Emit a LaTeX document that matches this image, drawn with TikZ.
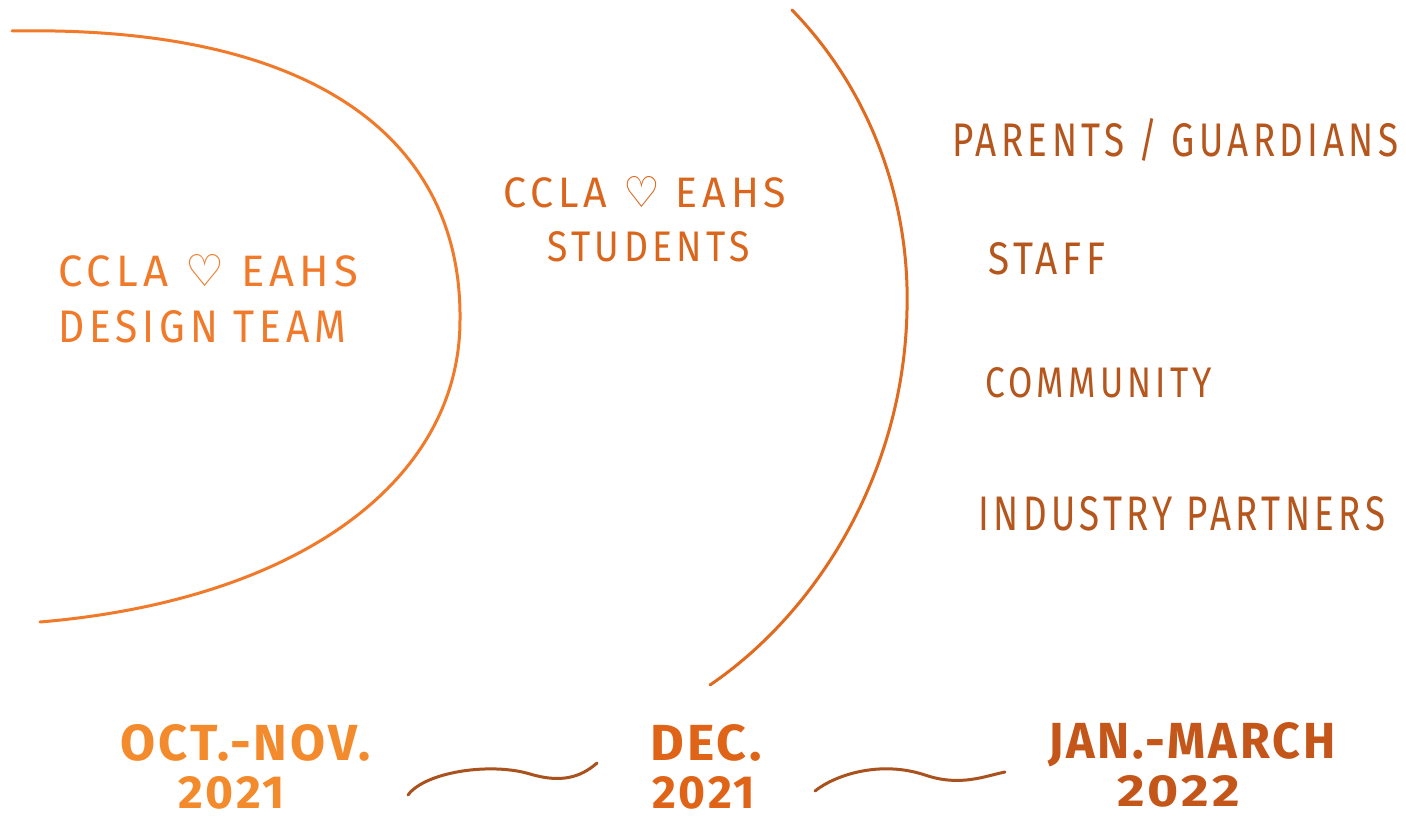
\documentclass[tikz,border=0pt]{standalone}
\usepackage{fontspec}
\setmainfont{Fira Sans}[LetterSpace=12]
\newfontfamily\symf{DejaVu Sans}
\newfontfamily\datef{Fira Sans}[BoldFont={Fira Sans Bold},LetterSpace=6]
\usepackage{graphicx}
\definecolor{lefto}{HTML}{F07A2A}
\definecolor{mido}{HTML}{DA661E}
\definecolor{midarc}{HTML}{E06A1E}
\definecolor{righto}{HTML}{B5561C}
\definecolor{dateA}{HTML}{F38A2C}
\definecolor{dateB}{HTML}{E06418}
\definecolor{dateC}{HTML}{C4561A}
\definecolor{squig}{HTML}{A9521E}
\newcommand{\fitbox}[3]{\resizebox{#1pt}{#2pt}{#3}}
\newcommand{\hrt}{{\symf ♡}}
\begin{document}
\begin{tikzpicture}[x=1pt,y=-1pt,
  lbl/.style={inner sep=0pt,anchor=base west},
  arcline/.style={line width=3pt,line cap=round},
  squigline/.style={line width=3pt,line cap=round,color=squig}]
\useasboundingbox (0,0) rectangle (1406,818);
\fill[white] (0,0) rectangle (1406,818);

% left arc
\coordinate (la) at (12,31);
\coordinate (lm) at (460,320);
\coordinate (lb) at (40,622);
\draw[arcline,lefto] (la) .. controls (330,25) and (462,150) .. (lm)
  .. controls (460,480) and (300,600) .. (lb);
% middle arc
\coordinate (ma) at (792,10);
\coordinate (mm) at (907,310);
\coordinate (mb) at (710,685);
\draw[arcline,midarc] (ma) .. controls (870,90) and (910,200) .. (mm)
  .. controls (904,470) and (820,610) .. (mb);

% left labels
\node[lbl,text=lefto] (l1) at (58,287) {\fitbox{300}{32}{CCLA \hrt{} EAHS}};
\node[lbl,text=lefto] (l2) at (58,342) {\fitbox{288}{32}{DESIGN TEAM}};
% middle labels
\node[lbl,text=mido] (m1) at (503,208) {\fitbox{283}{31}{CCLA \hrt{} EAHS}};
\node[lbl,text=mido] (m2) at (547,262) {\fitbox{203}{30}{STUDENTS}};
% right labels
\node[lbl,text=righto] (r1) at (952,157) {\fitbox{446}{38}{PARENTS / GUARDIANS}};
\node[lbl,text=righto] (r2) at (988,275) {\fitbox{117}{32}{STAFF}};
\node[lbl,text=righto] (r3) at (985,398) {\fitbox{227}{30}{COMMUNITY}};
\node[lbl,text=righto] (r4) at (978,530) {\fitbox{407}{34}{INDUSTRY PARTNERS}};

% dates
\node[lbl,text=dateA] (d1) at (120,760) {\fitbox{250}{36}{\datef\bfseries OCT.-NOV.}};
\node[lbl,text=dateA] (d1y) at (178,808) {\fitbox{107}{32}{\datef\bfseries 2021}};
\node[lbl,text=dateB] (d2) at (650,760) {\fitbox{112}{36}{\datef\bfseries DEC.}};
\node[lbl,text=dateB] (d2y) at (652,808) {\fitbox{103}{32}{\datef\bfseries 2021}};
\node[lbl,text=dateC] (d3) at (1048,758) {\fitbox{287}{36}{\datef\bfseries JAN.-MARCH}};
\node[lbl,text=dateC] (d3y) at (1117,806) {\fitbox{123}{31}{\datef\bfseries 2022}};

% squiggles
\coordinate (s1a) at (408,795);
\coordinate (s1b) at (597,763);
\coordinate (s2a) at (815,791);
\coordinate (s2b) at (1005,772);
\draw[squigline] (s1a) .. controls (425,772) and (490,762) .. (530,774) .. controls (560,783) and (580,778) .. (s1b);
\draw[squigline] (s2a) .. controls (835,775) and (880,760) .. (925,775) .. controls (960,787) and (985,776) .. (s2b);
\end{tikzpicture}
\end{document}
